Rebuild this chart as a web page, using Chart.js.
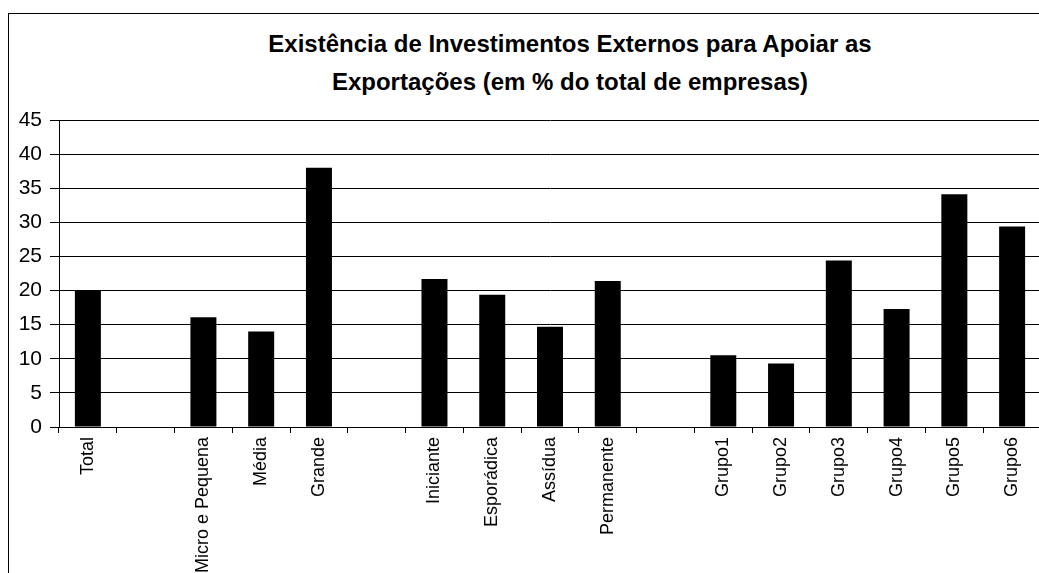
<!DOCTYPE html>
<html>
<head>
<meta charset="utf-8">
<title>Existência de Investimentos Externos para Apoiar as Exportações</title>
<script src="https://cdn.jsdelivr.net/npm/chart.js@4/dist/chart.umd.min.js"></script>
<style>
  html, body { margin: 0; padding: 0; background: #fff; overflow: hidden; }
  body { width: 1039px; height: 573px; position: relative; }
  .frame {
    position: absolute; left: 8px; top: 13px; width: 1200px; height: 700px;
    border-left: 1px solid #000; border-top: 1px solid #000;
  }
  .title {
    position: absolute; left: 55px; width: 1030px; top: 25px;
    text-align: center; font: bold 24px "Liberation Sans", Arial, sans-serif;
    line-height: 38px; color: #000;
  }
  #chart { position: absolute; left: 0; top: 0; }
</style>
</head>
<body>
<div class="frame"></div>
<div class="title">Existência de Investimentos Externos para Apoiar as<br>Exportações (em % do total de empresas)</div>
<canvas id="chart" width="1060" height="573"></canvas>
<script>
// Categories; empty strings are the gaps between groups
const categories = [
  'Total', '',
  'Micro e Pequena', 'Média', 'Grande', '',
  'Iniciante', 'Esporádica', 'Assídua', 'Permanente', '',
  'Grupo1', 'Grupo2', 'Grupo3', 'Grupo4', 'Grupo5', 'Grupo6'
];
const shares = [
  20.0, null,
  16.1, 14.0, 38.0, null,
  21.7, 19.4, 14.7, 21.4, null,
  10.5, 9.3, 24.4, 17.3, 34.1, 29.4
];
const yMin = 0;
const yMax = 45;
const yStep = 5;

const FONT = '"Liberation Sans", Arial, sans-serif';

new Chart(document.getElementById('chart'), {
  type: 'bar',
  data: {
    labels: categories,
    datasets: [{
      data: shares,
      backgroundColor: '#000',
      borderWidth: 0,
      categoryPercentage: 1,
      barPercentage: 0.45
    }]
  },
  options: {
    responsive: false,
    animation: false,
    devicePixelRatio: 1,
    layout: { padding: { top: 120, left: 0, right: 19, bottom: 0 } },
    plugins: {
      legend: { display: false },
      title: { display: false },
      tooltip: { enabled: false }
    },
    scales: {
      x: {
        offset: true,
        grid: {
          offset: true,
          drawOnChartArea: false,
          color: '#000',
          tickLength: 6
        },
        border: { color: '#000', width: 1 },
        ticks: {
          autoSkip: false,
          maxRotation: 90,
          minRotation: 90,
          color: '#000',
          padding: 4,
          font: { family: FONT, size: 18 }
        },
        afterFit: (scale) => { scale.height = 146; }
      },
      y: {
        min: yMin,
        max: yMax,
        grid: { color: '#000', lineWidth: 1, tickLength: 9 },
        border: { color: '#000', width: 1 },
        ticks: {
          stepSize: yStep,
          color: '#000',
          padding: 8,
          font: { family: FONT, size: 21 }
        },
        afterFit: (scale) => { scale.width = 59; }
      }
    }
  }
});
</script>
</body>
</html>
